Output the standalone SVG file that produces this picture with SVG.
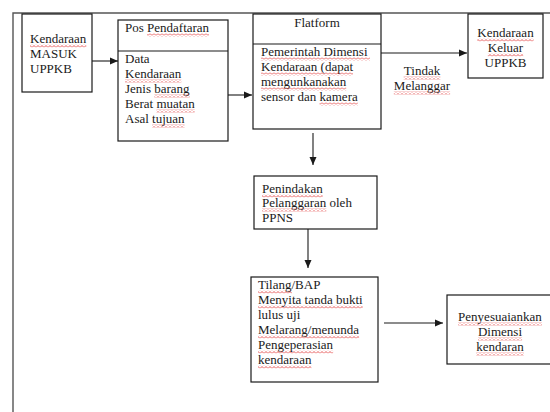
<svg xmlns="http://www.w3.org/2000/svg" width="550" height="412" viewBox="0 0 550 412">
<style>
.box{fill:#fff;stroke:#1a1a1a;stroke-width:1.2}
.t{font-family:"Liberation Serif","Times New Roman",serif;font-size:13px;fill:#1a1a1a}
.c{text-anchor:middle}
.ln{stroke:#1a1a1a;stroke-width:1.1;fill:none}
.sq{fill:url(#sq)}
.frame{stroke:#555;stroke-width:1.4;fill:none}
</style>
<defs>
<marker id="ah" viewBox="0 0 8 8" refX="8" refY="4" markerWidth="8" markerHeight="8" markerUnits="userSpaceOnUse" orient="auto">
<path d="M0,0.5 L8,4 L0,7.5 Z" fill="#1a1a1a"/>
</marker>
<pattern id="sq" patternUnits="userSpaceOnUse" width="4" height="3">
<path d="M0,2.5 L2,0.5 L4,2.5" stroke="#e02a2a" stroke-width="0.8" fill="none"/>
</pattern>
</defs>
<rect width="550" height="412" fill="#fff"/>
<g id="frame">
<path class="frame" d="M13,412 V13 H550"/>
</g>
<g id="connectors">
<line class="ln" x1="92" y1="61" x2="118" y2="61" marker-end="url(#ah)"/>
<line class="ln" x1="228" y1="95" x2="252" y2="95" marker-end="url(#ah)"/>
<line class="ln" x1="381" y1="53" x2="467" y2="53" marker-end="url(#ah)"/>
<line class="ln" x1="313" y1="133" x2="313" y2="165" marker-end="url(#ah)"/>
<line class="ln" x1="308" y1="226" x2="308" y2="268" marker-end="url(#ah)"/>
<line class="ln" x1="384" y1="323" x2="443" y2="323" marker-end="url(#ah)"/>
<g id="label-tidak-melanggar">
<text class="t c" x="422" y="75">Tindak</text>
<text class="t c" x="422" y="90">Melanggar</text>
<rect class="sq" x="403.6" y="76.5" width="36.8" height="3"/>
<rect class="sq" x="393.8" y="91.5" width="56.3" height="3"/>
</g>
</g>
<g id="masuk">
<rect class="box" x="22" y="14" width="70" height="78"/>
<text class="t" x="30" y="43">Kendaraan</text>
<text class="t" x="30" y="58">MASUK</text>
<text class="t" x="30" y="73">UPPKB</text>
<rect class="sq" x="30" y="44.5" width="56.3" height="3"/>
</g>
<g id="pos">
<rect class="box" x="118" y="20" width="110" height="121"/>
<line class="ln" x1="118" y1="51" x2="228" y2="51"/>
<text class="t" x="125" y="32">Pos Pendaftaran</text>
<text class="t" x="125" y="63">Data</text>
<text class="t" x="125" y="78">Kendaraan</text>
<text class="t" x="125" y="93">Jenis barang</text>
<text class="t" x="125" y="108">Berat muatan</text>
<text class="t" x="125" y="123">Asal tujuan</text>
<rect class="sq" x="147" y="33.5" width="62" height="3"/>
<rect class="sq" x="125" y="79.5" width="56.3" height="3"/>
<rect class="sq" x="154.3" y="94.5" width="35.4" height="3"/>
<rect class="sq" x="156.4" y="109.5" width="38.3" height="3"/>
<rect class="sq" x="152.1" y="124.5" width="32.5" height="3"/>
</g>
<g id="flatform">
<rect class="box" x="253" y="14" width="128" height="115"/>
<line class="ln" x1="253" y1="44" x2="381" y2="44"/>
<text class="t c" x="317" y="27">Flatform</text>
<text class="t" x="261" y="56">Pemerintah Dimensi</text>
<text class="t" x="261" y="71">Kendaraan (dapat</text>
<text class="t" x="261" y="86">mengunkanakan</text>
<text class="t" x="261" y="101">sensor dan kamera</text>
<rect class="sq" x="261" y="57.5" width="109" height="3"/>
<rect class="sq" x="261" y="72.5" width="92" height="3"/>
<rect class="sq" x="261" y="87.5" width="85.2" height="3"/>
<rect class="sq" x="319.5" y="102.5" width="38.3" height="3"/>
</g>
<g id="keluar">
<rect class="box" x="468" y="14" width="75" height="64"/>
<text class="t c" x="505.5" y="37">Kendaraan</text>
<text class="t c" x="505.5" y="52">Keluar</text>
<text class="t c" x="505.5" y="67">UPPKB</text>
<rect class="sq" x="477.3" y="38.5" width="56.3" height="3"/>
<rect class="sq" x="487.8" y="53.5" width="35.4" height="3"/>
</g>
<g id="penindakan">
<rect class="box" x="254" y="176" width="123" height="53"/>
<text class="t" x="262" y="193">Penindakan</text>
<text class="t" x="262" y="207">Pelanggaran oleh</text>
<text class="t" x="262" y="222">PPNS</text>
<rect class="sq" x="262" y="194.5" width="60.7" height="3"/>
<rect class="sq" x="262" y="208.5" width="64.3" height="3"/>
</g>
<g id="tilang">
<rect class="box" x="251" y="277" width="127" height="105"/>
<text class="t" x="258" y="289">Tilang/BAP</text>
<text class="t" x="258" y="304">Menyita tanda bukti</text>
<text class="t" x="258" y="319">lulus uji</text>
<text class="t" x="258" y="334">Melarang/menunda</text>
<text class="t" x="258" y="349">Pengeperasian</text>
<text class="t" x="258" y="364">kendaraan</text>
<rect class="sq" x="258" y="290.5" width="34" height="3"/>
<rect class="sq" x="258" y="305.5" width="104.7" height="3"/>
<rect class="sq" x="258" y="335.5" width="101.1" height="3"/>
<rect class="sq" x="258" y="350.5" width="75.1" height="3"/>
<rect class="sq" x="258" y="365.5" width="53.4" height="3"/>
</g>
<g id="penyesuaian">
<rect class="box" x="447" y="295" width="106" height="69"/>
<text class="t c" x="500" y="321">Penyesuaiankan</text>
<text class="t c" x="500" y="336">Dimensi</text>
<text class="t c" x="500" y="351">kendaran</text>
<rect class="sq" x="458.1" y="322.5" width="83.8" height="3"/>
<rect class="sq" x="478" y="337.5" width="44.1" height="3"/>
<rect class="sq" x="476.2" y="352.5" width="47.6" height="3"/>
</g>
</svg>
